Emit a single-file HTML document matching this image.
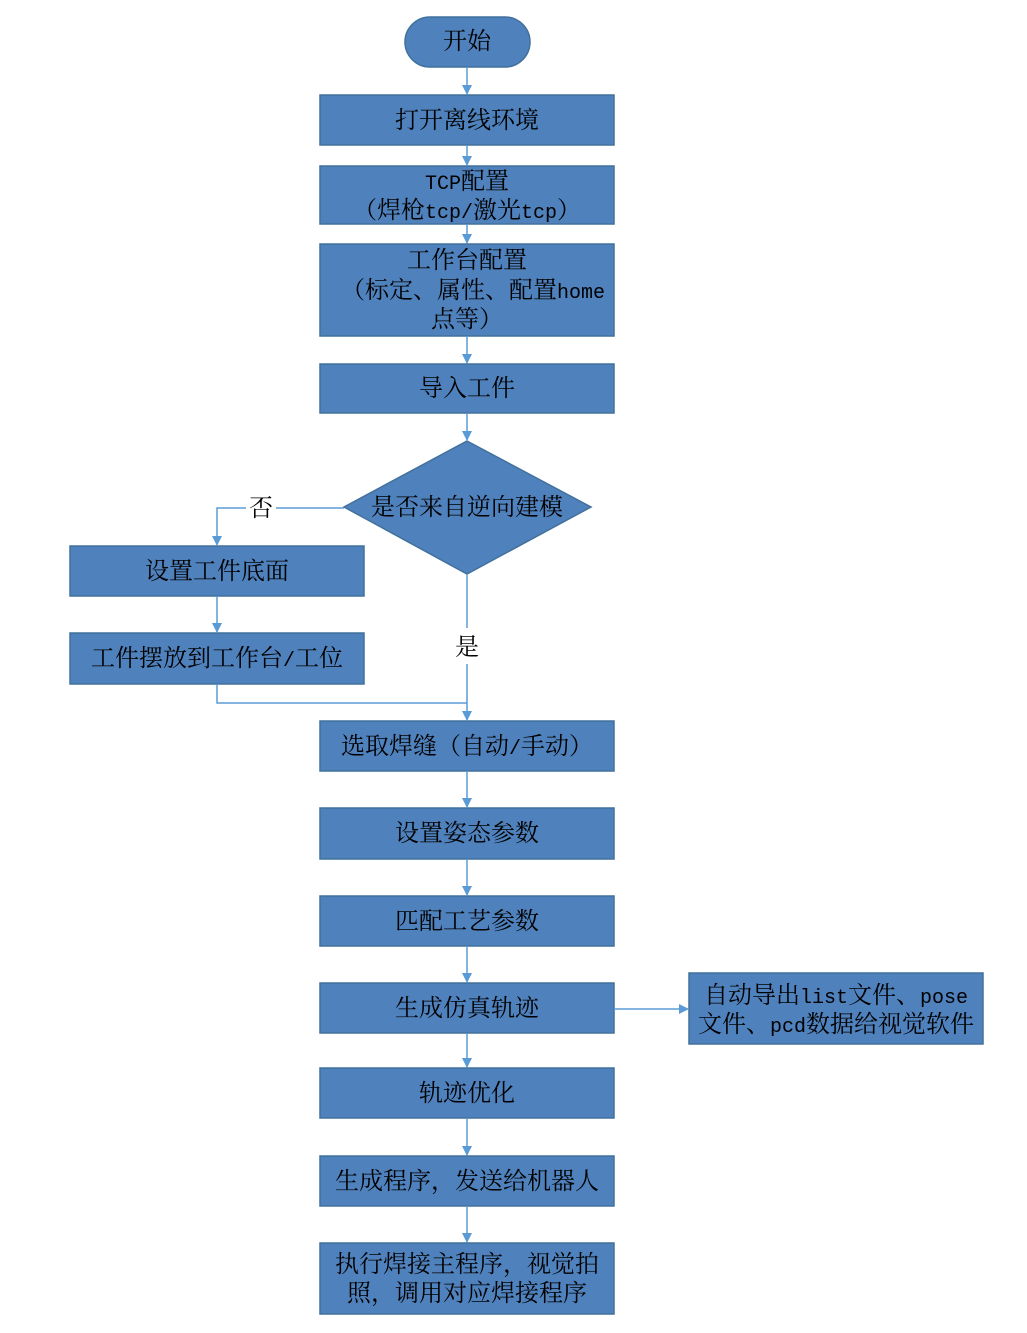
<!DOCTYPE html>
<html><head><meta charset="utf-8"><style>
html,body{margin:0;padding:0;background:#fff;}
svg text{font-family:"Noto Serif CJK SC","Liberation Serif",serif;font-size:24px;fill:#000;text-anchor:middle;}
svg tspan.m{font-family:"Liberation Mono",monospace;font-size:20px;}
</style></head><body>
<svg width="1027" height="1328" viewBox="0 0 1027 1328" xmlns="http://www.w3.org/2000/svg">
<defs>
<marker id="a" markerWidth="10" markerHeight="10" refX="9" refY="5" orient="auto" markerUnits="userSpaceOnUse">
<path d="M0,0 L10,5 L0,10 z" fill="#5b9bd5"/></marker>
</defs>
<g fill="#4f81bd" stroke="#41719c" stroke-width="1.5">
<rect x="405" y="17" width="125" height="50" rx="25"/>
<rect x="320" y="95" width="294" height="50"/>
<rect x="320" y="166" width="294" height="58"/>
<rect x="320" y="244" width="294" height="92"/>
<rect x="320" y="364" width="294" height="49"/>
<polygon points="467,441 591,507 467,574 344,507"/>
<rect x="70" y="546" width="294" height="50"/>
<rect x="70" y="633" width="294" height="51"/>
<rect x="320" y="721" width="294" height="50"/>
<rect x="320" y="808" width="294" height="51"/>
<rect x="320" y="896" width="294" height="50"/>
<rect x="320" y="983" width="294" height="50"/>
<rect x="689" y="973" width="294" height="71"/>
<rect x="320" y="1068" width="294" height="50"/>
<rect x="320" y="1156" width="294" height="50"/>
<rect x="320" y="1243" width="294" height="71"/>
</g>
<g stroke="#5b9bd5" stroke-width="1.5" fill="none" marker-end="url(#a)">
<line x1="467" y1="67" x2="467" y2="94"/>
<line x1="467" y1="145" x2="467" y2="165"/>
<line x1="467" y1="224" x2="467" y2="243"/>
<line x1="467" y1="336" x2="467" y2="363"/>
<line x1="467" y1="413" x2="467" y2="440"/>
<polyline points="344,508 217,508 217,545"/>
<line x1="217" y1="596" x2="217" y2="632"/>
<line x1="467" y1="574" x2="467" y2="720"/>
<line x1="467" y1="771" x2="467" y2="807"/>
<line x1="467" y1="859" x2="467" y2="895"/>
<line x1="467" y1="946" x2="467" y2="982"/>
<line x1="614" y1="1009" x2="688" y2="1009"/>
<line x1="467" y1="1033" x2="467" y2="1067"/>
<line x1="467" y1="1118" x2="467" y2="1155"/>
<line x1="467" y1="1206" x2="467" y2="1242"/>
</g>
<polyline points="217,684 217,703 467,703" stroke="#5b9bd5" stroke-width="1.5" fill="none"/>
<rect x="246" y="490" width="30" height="30" fill="#fff"/>
<rect x="452" y="628" width="30" height="36" fill="#fff"/>
<text x="467" y="49">开始</text>
<text x="467" y="128">打开离线环境</text>
<text x="467" y="189"><tspan class="m">TCP</tspan>配置</text>
<text x="467" y="218">（焊枪<tspan class="m">tcp/</tspan>激光<tspan class="m">tcp</tspan>）</text>
<text x="467" y="268">工作台配置</text>
<text x="473" y="298">（标定、属性、配置<tspan class="m">home</tspan></text>
<text x="467" y="327">点等）</text>
<text x="467" y="396">导入工件</text>
<text x="467" y="515">是否来自逆向建模</text>
<text x="261" y="516">否</text>
<text x="217" y="579">设置工件底面</text>
<text x="217" y="666">工件摆放到工作台<tspan class="m">/</tspan>工位</text>
<text x="467" y="655">是</text>
<text x="467" y="754">选取焊缝（自动<tspan class="m">/</tspan>手动）</text>
<text x="467" y="841">设置姿态参数</text>
<text x="467" y="929">匹配工艺参数</text>
<text x="467" y="1016">生成仿真轨迹</text>
<text x="836" y="1003">自动导出<tspan class="m">list</tspan>文件、<tspan class="m">pose</tspan></text>
<text x="836" y="1032">文件、<tspan class="m">pcd</tspan>数据给视觉软件</text>
<text x="467" y="1101">轨迹优化</text>
<text x="467" y="1189">生成程序，发送给机器人</text>
<text x="467" y="1272">执行焊接主程序，视觉拍</text>
<text x="467" y="1301">照，调用对应焊接程序</text>
</svg>
</body></html>
